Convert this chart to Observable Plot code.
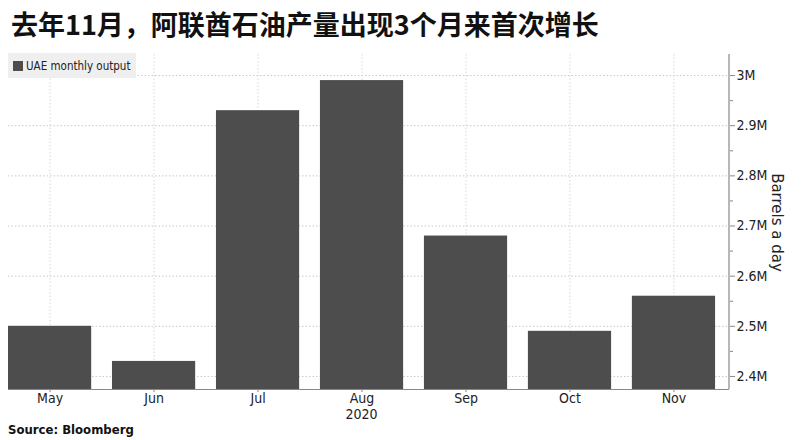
<!DOCTYPE html>
<html>
<head>
<meta charset="utf-8">
<script src="https://cdn.jsdelivr.net/npm/d3@7"></script>
<script src="https://cdn.jsdelivr.net/npm/@observablehq/plot@0.6"></script>
<style>
  html, body { margin: 0; padding: 0; background: #fff; }
  body { width: 806px; height: 440px; overflow: hidden; position: relative; }
  #title { height: 50px; line-height: 48px; padding-left: 11px; font-family: "Noto Sans CJK SC", sans-serif; font-weight: 700; font-size: 27px; color: #111; white-space: nowrap; }
  #chart { position: relative; height: 370px; }
  #legend { position: absolute; left: 8px; top: 3px; height: 25px; width: 128px; background: #efefef; font-family: "DejaVu Sans Condensed", "DejaVu Sans", sans-serif; font-size: 11.5px; color: #222; display: flex; align-items: center; box-sizing: border-box; padding-left: 5px; }
  #legend .sw { width: 10px; height: 10px; background: #4d4d4d; margin-right: 3px; }
  #source { position: absolute; left: 8px; top: 422px; font-family: "DejaVu Sans Condensed", "DejaVu Sans", sans-serif; font-weight: 700; font-size: 13px; color: #111; }
</style>
</head>
<body>
<div id="title">去年11月，阿联酋石油产量出现3个月来首次增长</div>
<div id="chart"></div>
<div id="source">Source: Bloomberg</div>
<script>
const months = ["May", "Jun", "Jul", "Aug", "Sep", "Oct", "Nov"];
const output = [2500000, 2430000, 2930000, 2990000, 2680000, 2490000, 2560000];
const yTicks = [2400000, 2500000, 2600000, 2700000, 2800000, 2900000, 3000000];
const yMinorTicks = [2450000, 2550000, 2650000, 2750000, 2850000, 2950000];
const yDomain = [2374000, 3042000];
const seriesName = "UAE monthly output";
const yLabel = "Barrels a day";
const yearLabel = "2020";

const data = months.map((m, i) => ({month: m, value: output[i]}));
const font = '"DejaVu Sans Condensed", "DejaVu Sans", sans-serif';
const W = 806, H = 370, mL = 8, mR = 77, mT = 4, mB = 31;

const chart = Plot.plot({
  width: W, height: H,
  marginLeft: mL, marginRight: mR, marginTop: mT, marginBottom: mB,
  style: {fontFamily: font, fontSize: "14px", color: "#222", background: "transparent", overflow: "visible"},
  x: {domain: months, paddingInner: 0.2, paddingOuter: 0.067, align: 0, round: false, axis: null},
  y: {domain: yDomain, axis: null},
  marks: [
    Plot.gridY(yTicks, {stroke: "#c8c8c8", strokeOpacity: 1, strokeDasharray: "1.5,2"}),
    Plot.gridX(months, {stroke: "#d8d8d8", strokeOpacity: 1, strokeDasharray: "1.5,2"}),
    Plot.barY(data, {x: "month", y1: () => yDomain[0], y2: "value", fill: "#4d4d4d"}),
    Plot.ruleY([yDomain[0]], {stroke: "#888", strokeWidth: 1.2}),
    Plot.axisX({tickSize: 3, tickPadding: 1, fontSize: 14, label: null, stroke: "#888"}),
    Plot.axisY(yMinorTicks, {anchor: "right", tickSize: 3, text: null, label: null, stroke: "#888"}),
    Plot.axisY(yTicks, {anchor: "right", tickSize: 5, tickPadding: 2, fontSize: 14, label: null, stroke: "#888",
      tickFormat: d => (d / 1e6) + "M"})
  ]
});

const svg = d3.select(chart);
const xs = chart.scale("x");
const ax = W - mR;
svg.append("line").attr("x1", ax).attr("x2", ax).attr("y1", mT).attr("y2", H - mB)
  .attr("stroke", "#888").attr("stroke-width", 1.2);
svg.append("text").attr("transform", `translate(${ax + 47},${(mT + H - mB) / 2 + 1}) rotate(90)`)
  .attr("text-anchor", "middle").attr("dominant-baseline", "middle")
  .attr("font-family", '"DejaVu Sans", sans-serif').attr("font-size", 15).attr("fill", "#222")
  .text(yLabel);
const aug = xs.apply("Aug") + xs.bandwidth / 2;
svg.append("text").attr("x", aug).attr("y", H - 1)
  .attr("text-anchor", "middle").attr("font-family", font).attr("font-size", 14).attr("fill", "#222")
  .text(yearLabel);

const holder = document.getElementById("chart");
holder.appendChild(chart);
const lg = document.createElement("div");
lg.id = "legend";
lg.innerHTML = '<span class="sw"></span>';
lg.appendChild(document.createTextNode(seriesName));
holder.appendChild(lg);
</script>
</body>
</html>
